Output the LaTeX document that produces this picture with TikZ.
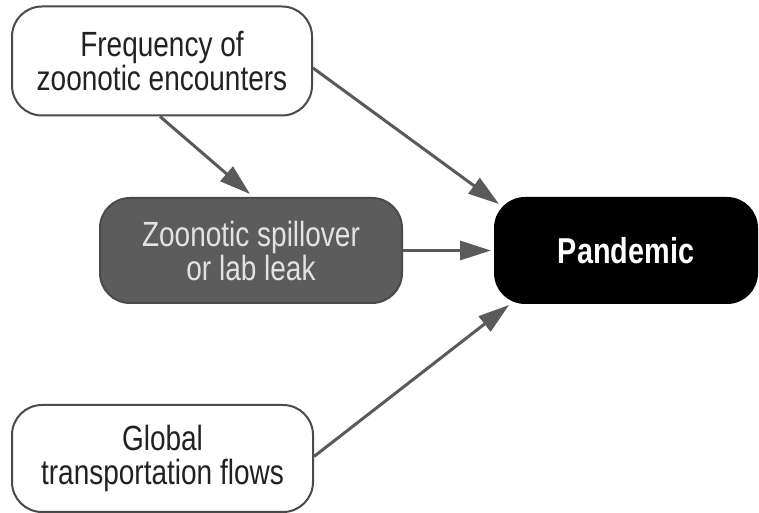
\documentclass[tikz,border=0pt]{standalone}
\usepackage{fontspec}
\setmainfont{Liberation Sans}[FakeStretch=0.8]
\usetikzlibrary{arrows.meta}
\definecolor{edgegray}{HTML}{4A4A4A}
\definecolor{arrowgray}{HTML}{5A5A5A}
\definecolor{midgray}{HTML}{5C5C5C}
\definecolor{inkdark}{HTML}{222222}
\definecolor{paletext}{HTML}{E2E2E2}
\tikzset{
  x=1pt, y=1pt,
  box/.style={draw=edgegray, line width=2pt, rounded corners=30pt,
    align=center, inner sep=0pt, text=inkdark,
    font=\fontsize{35}{34}\selectfont},
  whitebox/.style={box, fill=white},
  graybox/.style={box, fill=midgray, text=paletext},
  blackbox/.style={box, fill=black, draw=black, text=white,
    font=\fontsize{36}{34}\selectfont\bfseries},
  link/.style={draw=arrowgray, line width=3pt,
    -{Triangle[length=31pt,width=19pt,fill=arrowgray]}},
}
\begin{document}
\begin{tikzpicture}
\useasboundingbox (0,0) rectangle (759,513);
\node[whitebox, minimum width=300pt, minimum height=109pt] (freq) at (162,452)
  {Frequency of\\zoonotic encounters};
\node[graybox, minimum width=302pt, minimum height=105pt] (spill) at (251,262.5)
  {Zoonotic spillover\\or lab leak};
\node[blackbox, minimum width=262pt, minimum height=105pt] (pand) at (626,262.5)
  {Pandemic};
\node[whitebox, minimum width=301pt, minimum height=107pt] (glob) at (162.5,54.5)
  {Global\\transportation flows};
\draw[link] ([yshift=-7pt]freq.east) -- ([xshift=5pt,yshift=-7pt]pand.north west);
\draw[link] ([xshift=-2pt]freq.south) -- ([xshift=-1pt,yshift=3pt]spill.north);
\draw[link] (spill.east) -- ([xshift=-3pt]pand.west);
\draw[link] ([yshift=2pt]glob.east) -- ([xshift=15pt,yshift=-1pt]pand.south west);
\end{tikzpicture}
\end{document}
